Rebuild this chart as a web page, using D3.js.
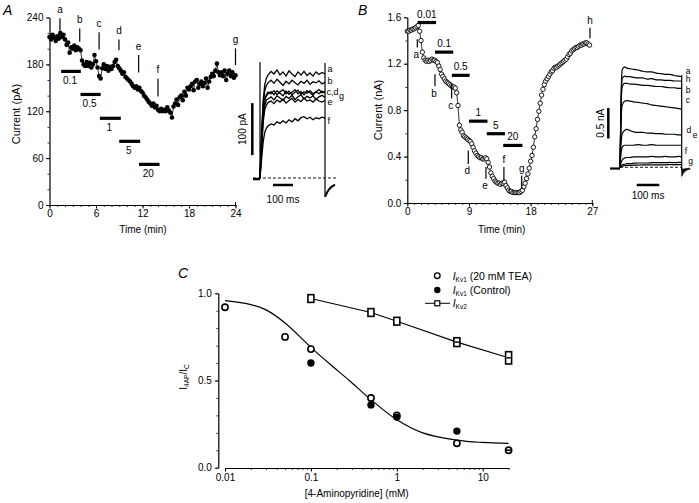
<!DOCTYPE html>
<html><head><meta charset="utf-8">
<script src="https://cdn.jsdelivr.net/npm/d3@7"></script>
<style>body{margin:0;background:#fff}svg{display:block}</style>
</head><body><svg id="c" width="699" height="503"></svg>
<script>
const FONT = '"Liberation Sans", Arial, Helvetica, sans-serif';
// ---------------- Panel A data ----------------
const aDt = 0.2; // min between samples
const aCurrent = [
 215,212,218,214,210, 216,213,220,215,218, 212,205,208,195,202, 200,204,198,202,200,
 198,185,180,178,183, 178,182,176,180,192, 184,176,165,162,175, 180,174,178,172,177,
 174,178,183,186,178, 175,172,168,170,164, 162,160,158,155,152, 150,152,148,150,146,
 144,140,138,135,132, 130,127,130,125,127, 122,120,123,120,122, 120,125,121,118,112,
 126,130,135,128,138, 140,134,145,140,150, 148,152,155,147,158, 160,150,155,158,152,
 156,162,150,158,164, 168,165,172,181,170, 166,170,165,172,160, 168,172,165,170,163, 166];
const aXTicks = [0,6,12,18,24];
const aYTicks = [0,60,120,180,240];
const aDrugs = ["0.1","0.5","1","5","20"];
const aDrugStart = [1.5,4.0,6.5,9.0,11.55];
const aDrugEnd = [4.05,6.6,9.2,11.7,14.2];
const aDrugLevel = [171,141.5,111,81.5,52];
const aMarks = ["a","b","c","d","e","f","g"];
const aMarkT = [1.35,3.9,6.4,8.96,11.5,14.0,24.0];
const aMarkLo = [221,209,199,198,169.5,139,179];
const aMarkHi = [239,226,221,212,192,162,200.5];
// inset A traces (pA vs ms)
const tA = [0,8,16,24,32,40,55,70,85,100,115,130,145,160,175,190,205,220,235,250,265,280,295,310,325];
const trA = {
 a:[0,90,150,180,192,198,205,200,208,198,204,196,206,200,195,204,198,205,197,202,196,204,199,203,200],
 b:[0,80,140,168,178,183,188,182,190,184,178,186,181,188,183,179,186,182,188,180,185,183,187,181,184],
 c:[0,70,125,150,158,162,166,160,168,163,158,167,161,165,170,162,166,160,168,164,159,166,162,167,163],
 d:[0,72,128,152,160,165,162,168,160,166,170,162,167,160,165,169,161,166,163,168,162,166,170,164,166],
 g:[0,60,115,140,150,152,156,150,158,154,149,157,153,159,151,156,160,152,157,154,158,151,156,159,155],
 e:[0,55,108,132,140,145,148,143,150,146,152,144,149,153,146,151,147,154,148,150,146,152,148,146,149],
 f:[0,35,70,88,96,100,104,102,108,105,110,106,112,108,114,110,116,118,114,117,112,116,114,117,115]
};
const tailAT = [325,328,335,345,355,365,375];
const tailAI = [-36,-34,-28,-22,-18,-15,-13];
const insetALabels = ["a","b","c,d","g","e","f"];
const insetALabelI = [209,186,166,157,147,110];
const insetALabelT = [338,338,333,395,338,338];

// ---------------- Panel B data ----------------
const bDt = 0.2;
const bCurrent = [
 1.48,1.48,1.49,1.49,1.50,1.50,1.51,1.52,1.53,1.48,
 1.40,1.30,1.25,1.23,1.22,1.23,1.22,1.23,1.24,1.23,
 1.23,1.22,1.21,1.18,1.15,1.11,1.09,1.07,1.05,1.04,
 1.03,1.02,1.01,1.00,1.00,0.99,0.95,0.84,0.67,0.63,
 0.61,0.58,0.57,0.56,0.55,0.54,0.53,0.51,0.48,0.45,
 0.43,0.41,0.40,0.39,0.39,0.38,0.38,0.39,0.38,0.35,
 0.31,0.26,0.23,0.21,0.19,0.18,0.17,0.17,0.16,0.17,
 0.17,0.18,0.15,0.13,0.11,0.10,0.10,0.09,0.09,0.09,
 0.09,0.09,0.09,0.10,0.11,0.14,0.17,0.21,0.25,0.30,
 0.36,0.41,0.48,0.57,0.64,0.72,0.79,0.86,0.93,0.98,
 1.02,1.05,1.07,1.09,1.11,1.13,1.14,1.16,1.17,1.17,
 1.18,1.19,1.20,1.21,1.22,1.23,1.24,1.26,1.28,1.29,
 1.31,1.32,1.33,1.34,1.34,1.35,1.36,1.36,1.37,1.37,
 1.38,1.38,1.37,1.36];
const bXTicks = [0,9,18,27];
const bYTicks = [0,0.4,0.8,1.2,1.6];
const bDrugs = ["0.01","0.1","0.5","1","5","20"];
const bDrugStart = [1.5,4.04,6.5,9.0,11.6,14.0];
const bDrugEnd = [4.2,6.7,9.1,11.7,14.25,16.8];
const bDrugLevel = [1.555,1.30,1.10,0.705,0.597,0.496];
const bMarks = ["a","b","c","d","e","f","g","h"];
const bMarkT = [1.46,4.04,6.47,8.9,11.48,14.1,16.69,26.66];
const bMarkLo = [1.34,1.006,0.90,0.337,0.21,0.19,0.12,1.42];
const bMarkHi = [1.41,1.11,1.03,0.453,0.31,0.31,0.236,1.51];
const bMarkBelow = [true,true,true,true,true,false,false,false];
// inset B traces (nA vs ms)
const tB = [0,5,10,20,30,45,60,80,100,120,140,160,180,200,220,240,260,273];
const trB = [
 [0,1.2,1.6,1.64,1.62,1.61,1.60,1.59,1.57,1.56,1.56,1.54,1.53,1.52,1.52,1.50,1.49,1.48],
 [0,1.1,1.45,1.49,1.48,1.48,1.47,1.46,1.46,1.44,1.45,1.43,1.43,1.42,1.42,1.41,1.41,1.41],
 [0,1.0,1.32,1.37,1.37,1.36,1.36,1.35,1.34,1.34,1.33,1.32,1.32,1.31,1.30,1.30,1.29,1.29],
 [0,0.8,1.02,1.08,1.09,1.08,1.07,1.06,1.05,1.04,1.02,1.01,1.00,0.99,0.98,0.97,0.96,0.95],
 [0,0.4,0.55,0.60,0.62,0.60,0.58,0.57,0.57,0.56,0.56,0.55,0.55,0.54,0.54,0.54,0.53,0.53],
 [0,0.25,0.33,0.36,0.36,0.36,0.36,0.37,0.36,0.36,0.37,0.36,0.36,0.36,0.36,0.36,0.36,0.36],
 [0,0.08,0.12,0.15,0.16,0.16,0.17,0.17,0.17,0.17,0.18,0.17,0.17,0.18,0.17,0.17,0.18,0.17],
 [0,0.03,0.04,0.05,0.06,0.06,0.065,0.07,0.07,0.07,0.075,0.075,0.075,0.075,0.08,0.075,0.08,0.08],
 [0,0.01,0.02,0.025,0.03,0.03,0.035,0.035,0.04,0.04,0.04,0.04,0.04,0.04,0.045,0.04,0.045,0.045]
];
const tailBT = [273,275,280,290,300,310];
const tailBLo = [-0.15,-0.14,-0.10,-0.06,-0.04,-0.03];
const tailBHi = [0,-0.03,-0.03,-0.02,-0.02,-0.01];
const insetBLabels = ["a","h","b","c","d","e","f","g"];
const insetBLabelI = [1.58,1.44,1.265,1.10,0.61,0.53,0.27,0.095];
const insetBLabelT = [291,291,291,291,294,322,287,302];

// ---------------- Panel C data ----------------
const cConc = [0.01,0.05,0.1,0.5,1,5,20];
const kv1TEA = [0.92,0.75,0.68,0.40,0.30,0.14,0.10];
const ctrlConc = [0.1,0.5,1,5];
const kv1Ctrl = [0.60,0.36,0.29,0.21];
const kv2Conc = [0.1,0.5,1,5,20];
const kv2 = [0.97,0.89,0.84,0.72,0.63];
const kv2Err = [0.005,0.005,0.005,0.008,0.018];
const fitX = [0.01,0.02,0.03,0.05,0.1,0.17,0.28,0.5,1,2,5,10,20];
const fitY = [0.958,0.935,0.905,0.83,0.69,0.59,0.50,0.39,0.275,0.20,0.158,0.145,0.14];
const cXTicks = [0.01,0.1,1,10];
const cYTicks = [0,0.5,1.0];

// ================= drawing =================
const svg = d3.select("#c");
svg.append("rect").attr("width",699).attr("height",503).attr("fill","#fff");

function styleAxis(g){
  g.attr("font-family",FONT).attr("font-size",10);
  g.select(".domain").attr("stroke","#000").attr("stroke-width",1.2);
  g.selectAll(".tick line").attr("stroke","#000").attr("stroke-width",1);
  g.selectAll(".tick text").attr("fill","#000");
}
function minor(g){ g.select(".domain").remove(); g.selectAll(".tick line").attr("stroke","#000").attr("stroke-width",0.8); }
function txt(x,y,s,opt){
  opt = opt||{};
  const t = svg.append("text").attr("x",x).attr("y",y).text(s)
    .attr("font-family",FONT).attr("font-size",opt.size||10).attr("fill","#000")
    .attr("text-anchor",opt.anchor||"middle");
  if(opt.italic) t.attr("font-style","italic");
  if(opt.rot) t.attr("x",0).attr("y",0).attr("transform",`translate(${x},${y}) rotate(-90)`);
  return t;
}

// ---- Panel A ----
const xA = d3.scaleLinear().domain([0,24]).range([49.5,235.5]);
const yA = d3.scaleLinear().domain([0,240]).range([205,17.5]);
svg.append("g").attr("transform","translate(0,205)")
  .call(d3.axisBottom(xA).tickValues(d3.range(0,25,1)).tickSize(2).tickFormat("")).call(minor);
svg.append("g").attr("transform","translate(0,205)")
  .call(d3.axisBottom(xA).tickValues(aXTicks).tickSize(3.5).tickPadding(1.5).tickSizeOuter(0)).call(styleAxis);
svg.append("g").attr("transform","translate(49.5,0)")
  .call(d3.axisLeft(yA).tickValues(d3.range(0,241,20)).tickSize(2).tickFormat("")).call(minor);
svg.append("g").attr("transform","translate(49.5,0)")
  .call(d3.axisLeft(yA).tickValues(aYTicks).tickSize(3.5).tickPadding(2.5).tickSizeOuter(0)).call(styleAxis);
svg.append("line").attr("x1",xA(24)).attr("x2",xA(24)).attr("y1",yA(0)).attr("y2",yA(0)-3).attr("stroke","#000");

const aPts = aCurrent.map((v,i)=>({t:i*aDt,v}));
svg.append("path").datum(aPts).attr("fill","none").attr("stroke","#000").attr("stroke-width",0.8)
  .attr("d",d3.line().x(d=>xA(d.t)).y(d=>yA(d.v)));
svg.append("g").selectAll("circle").data(aPts).join("circle")
  .attr("cx",d=>xA(d.t)).attr("cy",d=>yA(d.v)).attr("r",2.3).attr("fill","#000");
aDrugs.forEach((s,i)=>{
  svg.append("line").attr("x1",xA(aDrugStart[i])).attr("x2",xA(aDrugEnd[i]))
    .attr("y1",yA(aDrugLevel[i])).attr("y2",yA(aDrugLevel[i])).attr("stroke","#000").attr("stroke-width",3.2);
  txt((xA(aDrugStart[i])+xA(aDrugEnd[i]))/2-1, yA(aDrugLevel[i])+13, s);
});
aMarks.forEach((s,i)=>{
  svg.append("line").attr("x1",xA(aMarkT[i])).attr("x2",xA(aMarkT[i]))
    .attr("y1",yA(aMarkLo[i])).attr("y2",yA(aMarkHi[i])).attr("stroke","#000").attr("stroke-width",1.2);
  txt(xA(aMarkT[i]), yA(aMarkHi[i])-5, s);
});
txt(20,114,"Current (pA)",{rot:true,size:11});
txt(143,233,"Time (min)");
txt(3,15,"A",{italic:true,size:14,anchor:"start"});

// inset A
const xIA = d3.scaleLinear().domain([0,100]).range([260,280]);
const yIA = d3.scaleLinear().domain([0,100]).range([178,126]);
svg.append("line").attr("x1",xIA(-35)).attr("x2",xIA(385)).attr("y1",yIA(0)).attr("y2",yIA(0))
  .attr("stroke","#000").attr("stroke-width",0.9).attr("stroke-dasharray","3,2");
svg.append("line").attr("x1",xIA(-35)).attr("x2",xIA(0)).attr("y1",yIA(-2)).attr("y2",yIA(-2))
  .attr("stroke","#000").attr("stroke-width",2.5);
svg.append("line").attr("x1",xIA(0)).attr("x2",xIA(0)).attr("y1",yIA(-2)).attr("y2",yIA(223))
  .attr("stroke","#000").attr("stroke-width",1.2);
const lineIA = d3.line().x((d,i)=>xIA(tA[i])).y(d=>yIA(d));
Object.keys(trA).forEach(k=>{
  svg.append("path").datum(trA[k]).attr("fill","none").attr("stroke","#000").attr("stroke-width",1.3).attr("d",lineIA);
});
svg.append("line").attr("x1",xIA(325)).attr("x2",xIA(325)).attr("y1",yIA(221)).attr("y2",yIA(-36))
  .attr("stroke","#000").attr("stroke-width",1.2);
svg.append("path").datum(tailAI).attr("fill","none").attr("stroke","#000").attr("stroke-width",2)
  .attr("d",d3.line().x((d,i)=>xIA(tailAT[i])).y(d=>yIA(d)));
// scale bars
svg.append("line").attr("x1",252.3).attr("x2",252.3).attr("y1",yIA(44)).attr("y2",yIA(144))
  .attr("stroke","#000").attr("stroke-width",2.5);
txt(246,yIA(94),"100 pA",{rot:true,size:10});
svg.append("line").attr("x1",xIA(65)).attr("x2",xIA(165)).attr("y1",185).attr("y2",185)
  .attr("stroke","#000").attr("stroke-width",2.5);
txt(xIA(115),203,"100 ms");
insetALabels.forEach((s,i)=>txt(xIA(insetALabelT[i]), yIA(insetALabelI[i])+3, s,{anchor:"start",size:9}));

// ---- Panel B ----
const xB = d3.scaleLinear().domain([0,27]).range([407.3,592.3]);
const yB = d3.scaleLinear().domain([0,1.6]).range([203,17.3]);
svg.append("g").attr("transform","translate(0,203)")
  .call(d3.axisBottom(xB).tickValues(d3.range(0,28,1)).tickSize(2).tickFormat("")).call(minor);
svg.append("g").attr("transform","translate(0,203)")
  .call(d3.axisBottom(xB).tickValues(bXTicks).tickSize(3.5).tickPadding(1.5).tickSizeOuter(0)).call(styleAxis);
svg.append("g").attr("transform","translate(407.3,0)")
  .call(d3.axisLeft(yB).tickValues(d3.range(0,1.61,0.2)).tickSize(2).tickFormat("")).call(minor);
svg.append("g").attr("transform","translate(407.3,0)")
  .call(d3.axisLeft(yB).tickValues(bYTicks).tickSize(3.5).tickPadding(2.5).tickSizeOuter(0).tickFormat(d3.format(".1f"))).call(styleAxis);
svg.append("line").attr("x1",xB(27)).attr("x2",xB(27)).attr("y1",yB(0)).attr("y2",yB(0)-3).attr("stroke","#000");

const bPts = bCurrent.map((v,i)=>({t:i*bDt,v}));
svg.append("path").datum(bPts).attr("fill","none").attr("stroke","#000").attr("stroke-width",0.8)
  .attr("d",d3.line().x(d=>xB(d.t)).y(d=>yB(d.v)));
svg.append("g").selectAll("circle").data(bPts).join("circle")
  .attr("cx",d=>xB(d.t)).attr("cy",d=>yB(d.v)).attr("r",2.2).attr("fill","#fff").attr("stroke","#000").attr("stroke-width",0.9);
bDrugs.forEach((s,i)=>{
  svg.append("line").attr("x1",xB(bDrugStart[i])).attr("x2",xB(bDrugEnd[i]))
    .attr("y1",yB(bDrugLevel[i])).attr("y2",yB(bDrugLevel[i])).attr("stroke","#000").attr("stroke-width",3.2);
  txt((xB(bDrugStart[i])+xB(bDrugEnd[i]))/2, yB(bDrugLevel[i])-5, s);
});
bMarks.forEach((s,i)=>{
  svg.append("line").attr("x1",xB(bMarkT[i])).attr("x2",xB(bMarkT[i]))
    .attr("y1",yB(bMarkLo[i])).attr("y2",yB(bMarkHi[i])).attr("stroke","#000").attr("stroke-width",1.2);
  if(bMarkBelow[i]) txt(xB(bMarkT[i])-1, yB(bMarkLo[i])+10.5, s);
  else txt(xB(bMarkT[i]), yB(bMarkHi[i])-4, s);
});
txt(382,110,"Current (nA)",{rot:true,size:11});
txt(501.7,233,"Time (min)");
txt(358,15,"B",{italic:true,size:14,anchor:"start"});

// inset B
const xIB = d3.scaleLinear().domain([0,100]).range([620,642.6]);
const yIB = d3.scaleLinear().domain([0,0.5]).range([167.3,136.7]);
svg.append("line").attr("x1",xIB(0)).attr("x2",xIB(273)).attr("y1",yIB(0)).attr("y2",yIB(0))
  .attr("stroke","#000").attr("stroke-width",0.9).attr("stroke-dasharray","3,2");
svg.append("line").attr("x1",xIB(-44)).attr("x2",xIB(0)).attr("y1",yIB(-0.02)).attr("y2",yIB(-0.02))
  .attr("stroke","#000").attr("stroke-width",2.2);
const lineIB = d3.line().x((d,i)=>xIB(tB[i])).y(d=>yIB(d)).curve(d3.curveMonotoneX);
trB.forEach(tr=>{
  svg.append("path").datum(tr).attr("fill","none").attr("stroke","#000").attr("stroke-width",1.2).attr("d",lineIB);
});
svg.append("line").attr("x1",xIB(273)).attr("x2",xIB(273)).attr("y1",yIB(1.51)).attr("y2",yIB(-0.05))
  .attr("stroke","#000").attr("stroke-width",1.2);
svg.append("path").datum(tailBT.map((t,i)=>({t,lo:tailBLo[i],hi:tailBHi[i]})))
  .attr("fill","#000").attr("stroke","#000").attr("stroke-width",0.6)
  .attr("d",d3.area().x(d=>xIB(d.t)).y0(d=>yIB(d.hi)).y1(d=>yIB(d.lo)).curve(d3.curveMonotoneX));
svg.append("line").attr("x1",608.3).attr("x2",608.3).attr("y1",yIB(0.47)).attr("y2",yIB(0.97))
  .attr("stroke","#000").attr("stroke-width",2.5);
txt(604,yIB(0.72),"0.5 nA",{rot:true,size:10});
svg.append("line").attr("x1",xIB(74)).attr("x2",xIB(174)).attr("y1",185).attr("y2",185)
  .attr("stroke","#000").attr("stroke-width",2.5);
txt(xIB(124),199,"100 ms");
insetBLabels.forEach((s,i)=>txt(xIB(insetBLabelT[i]), yIB(insetBLabelI[i])+3, s,{anchor:"start",size:8.5}));

// ---- Panel C ----
const xC = d3.scaleLog().domain([0.01,20]).range([225,508.6]);
const yC = d3.scaleLinear().domain([0,1]).range([467.7,293.3]);
svg.append("g").attr("transform","translate(0,468)")
  .call(d3.axisBottom(xC).tickValues(xC.ticks()).tickSize(2).tickFormat("")).call(minor);
svg.append("g").attr("transform","translate(0,468)")
  .call(d3.axisBottom(xC).tickValues(cXTicks).tickSize(3.5).tickPadding(2.5).tickSizeOuter(0).tickFormat(d=>String(d))).call(styleAxis);
svg.append("g").attr("transform","translate(218.3,0)")
  .call(d3.axisLeft(yC).tickValues(d3.range(0,1.01,0.1)).tickSize(2).tickFormat("")).call(minor);
svg.append("g").attr("transform","translate(218.3,0)")
  .call(d3.axisLeft(yC).tickValues(cYTicks).tickSize(3.5).tickPadding(3).tickSizeOuter(0).tickFormat(d3.format(".1f"))).call(styleAxis);

svg.append("path").datum(fitX.map((x,i)=>({x,y:fitY[i]}))).attr("fill","none").attr("stroke","#000").attr("stroke-width",1.2)
  .attr("d",d3.line().x(d=>xC(d.x)).y(d=>yC(d.y)).curve(d3.curveCatmullRom.alpha(0.5)));
const kv2Pts = kv2Conc.map((x,i)=>({x,y:kv2[i],e:kv2Err[i]}));
svg.append("path").datum(kv2Pts).attr("fill","none").attr("stroke","#000").attr("stroke-width",1.1)
  .attr("d",d3.line().x(d=>xC(d.x)).y(d=>yC(d.y)));
svg.append("g").selectAll("rect").data(kv2Pts).join("rect")
  .attr("x",d=>xC(d.x)-3).attr("y",d=>yC(d.y+d.e)-3).attr("width",6).attr("height",d=>yC(d.y-d.e)-yC(d.y+d.e)+6)
  .attr("fill","#fff").attr("stroke","#000").attr("stroke-width",1.6);
svg.append("g").selectAll("line").data(kv2Pts.filter(d=>d.e>0.006)).join("line")
  .attr("x1",d=>xC(d.x)-2).attr("x2",d=>xC(d.x)+2).attr("y1",d=>yC(d.y)).attr("y2",d=>yC(d.y))
  .attr("stroke","#000").attr("stroke-width",1.5);
svg.append("g").selectAll("circle").data(cConc.map((x,i)=>({x,y:kv1TEA[i]}))).join("circle")
  .attr("cx",d=>xC(d.x)).attr("cy",d=>yC(d.y)).attr("r",3.1).attr("fill","#fff").attr("stroke","#000").attr("stroke-width",1.6);
svg.append("g").selectAll("circle").data(ctrlConc.map((x,i)=>({x,y:kv1Ctrl[i]}))).join("circle")
  .attr("cx",d=>xC(d.x)).attr("cy",d=>yC(d.y)).attr("r",3.7).attr("fill","#000");
svg.append("line").attr("x1",xC(20)-2.5).attr("x2",xC(20)+2.5).attr("y1",yC(0.10)).attr("y2",yC(0.10)).attr("stroke","#000").attr("stroke-width",1.6);

// legend
svg.append("circle").attr("cx",437.3).attr("cy",275.7).attr("r",2.8).attr("fill","#fff").attr("stroke","#000").attr("stroke-width",1.3);
svg.append("circle").attr("cx",437.3).attr("cy",290).attr("r",3.2).attr("fill","#000");
svg.append("line").attr("x1",425).attr("x2",450).attr("y1",303.3).attr("y2",303.3).attr("stroke","#000").attr("stroke-width",1);
svg.append("rect").attr("x",434.8).attr("y",300.8).attr("width",5).attr("height",5).attr("fill","#fff").attr("stroke","#000").attr("stroke-width",1.2);
function legText(y,sub,rest){
  const t = svg.append("text").attr("x",452.7).attr("y",y).attr("font-family",FONT).attr("font-size",10.5).attr("fill","#000");
  t.append("tspan").attr("font-style","italic").text("I");
  t.append("tspan").attr("font-size",6.5).attr("dy",2).text(sub);
  if(rest) t.append("tspan").attr("dy",-2).text(rest);
}
legText(279.5,"Kv1"," (20 mM TEA)");
legText(293.8,"Kv1"," (Control)");
legText(307,"Kv2","");

// y label
const yl = svg.append("text").attr("transform","translate(187,377) rotate(-90)").attr("text-anchor","middle")
  .attr("font-family",FONT).attr("font-size",10).attr("fill","#000");
yl.append("tspan").text("I");
yl.append("tspan").attr("font-size",6.5).attr("dy",2).text("4AP");
yl.append("tspan").attr("dy",-2).text("/I");
yl.append("tspan").attr("font-size",6.5).attr("dy",2).text("C");
txt(356.7,497,"[4-Aminopyridine] (mM)");
txt(178,278,"C",{italic:true,size:14,anchor:"start"});
</script></body></html>
